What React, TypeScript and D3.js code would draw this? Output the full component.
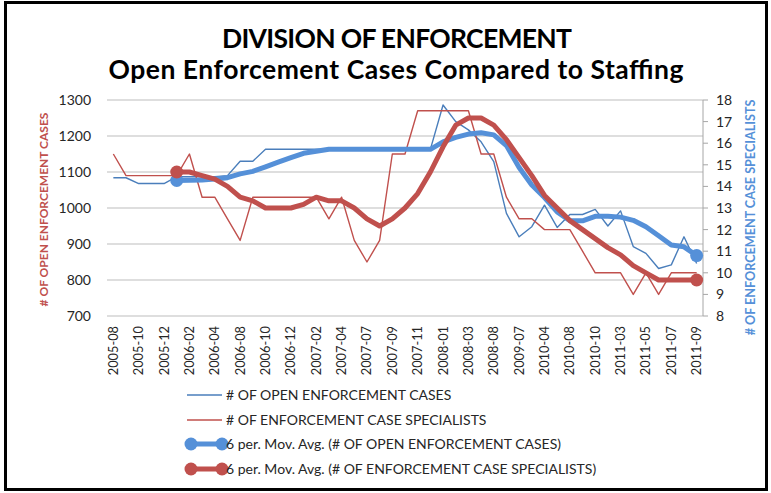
import React from 'react';
import * as d3 from 'd3';

const categories = [
  '2005-08', '2005-09', '2005-10', '2005-11', '2005-12', '2006-01', '2006-02', '2006-03',
  '2006-04', '2006-06', '2006-08', '2006-09', '2006-10', '2006-11', '2006-12', '2007-01',
  '2007-02', '2007-03', '2007-04', '2007-05', '2007-07', '2007-08', '2007-09', '2007-10',
  '2007-11', '2007-12', '2008-01', '2008-02', '2008-03', '2008-05', '2008-08', '2009-01',
  '2009-07', '2009-11', '2010-04', '2010-06', '2010-08', '2010-09', '2010-10', '2010-12',
  '2011-03', '2011-04', '2011-05', '2011-06', '2011-07', '2011-08', '2011-09',
];

const openCases = [
  1084, 1084, 1068, 1068, 1068, 1087, 1087, 1087, 1087, 1090, 1130, 1130, 1163, 1163, 1163, 1163,
  1163, 1163, 1163, 1163, 1163, 1163, 1163, 1163, 1163, 1163, 1286, 1240, 1217, 1184, 1129, 985,
  920, 948, 1008, 946, 982, 982, 996, 950, 992, 893, 874, 832, 842, 920, 846,
];

const specialists = [
  15.5, 14.5, 14.5, 14.5, 14.5, 14.5, 15.5, 13.5, 13.5, 12.5, 11.5, 13.5, 13.5, 13.5, 13.5, 13.5,
  13.5, 12.5, 13.5, 11.5, 10.5, 11.5, 15.5, 15.5, 17.5, 17.5, 17.5, 17.5, 17.5, 15.5, 15.5, 13.5,
  12.5, 12.5, 12, 12, 12, 11, 10, 10, 10, 9, 10, 9, 10, 10, 10,
];

const leftTicks = [700, 800, 900, 1000, 1100, 1200, 1300];
const rightTicks = [8, 9, 10, 11, 12, 13, 14, 15, 16, 17, 18];

const titleLine1 = 'DIVISION OF ENFORCEMENT';
const titleLine2 = 'Open Enforcement Cases Compared to Staffing';
const leftAxisTitle = '# OF OPEN ENFORCEMENT CASES';
const rightAxisTitle = '# OF ENFORCEMENT CASE SPECIALISTS';
const legendNames = [
  '# OF OPEN ENFORCEMENT CASES',
  '# OF ENFORCEMENT CASE SPECIALISTS',
  '6 per. Mov. Avg. (# OF OPEN ENFORCEMENT CASES)',
  '6 per. Mov. Avg. (# OF ENFORCEMENT CASE SPECIALISTS)',
];

const PERIOD = 6;

function movingAverage(values: number[], n: number): (number | null)[] {
  return values.map((_, i) => (i < n - 1 ? null : (d3.mean(values.slice(i - n + 1, i + 1)) as number)));
}

const FONT = 'Lato, Carlito, Calibri, "Liberation Sans", sans-serif';
const BLUE = '#4A7EBB';
const BLUE_MA = '#5590D8';
const RED = '#C0504D';
const RED_MA = '#C0504D';

export default function App() {
  const W = 771;
  const H = 493;
  const plot = { left: 107, right: 703, top: 100, bottom: 316 };

  const x = d3.scaleBand<string>().domain(categories).range([plot.left, plot.right]);
  const cx = (i: number) => (x(categories[i]) as number) + x.bandwidth() / 2;
  const yL = d3.scaleLinear().domain([700, 1300]).range([plot.bottom, plot.top]);
  const yR = d3.scaleLinear().domain([8, 18]).range([plot.bottom, plot.top]);

  const maOpen = movingAverage(openCases, PERIOD);
  const maSpec = movingAverage(specialists, PERIOD);

  const lineL = d3
    .line<number | null>()
    .defined((d) => d !== null)
    .x((_, i) => cx(i))
    .y((d) => yL(d as number));
  const lineR = d3
    .line<number | null>()
    .defined((d) => d !== null)
    .x((_, i) => cx(i))
    .y((d) => yR(d as number));

  const firstMA = PERIOD - 1;
  const lastIdx = categories.length - 1;

  const legendX0 = 187;
  const legendX1 = 222;
  const legendYs = [395, 420, 444, 469];

  return (
    <svg
      width={W}
      height={H}
      style={{ position: 'absolute', left: 0, top: 0, background: '#fff' }}
      fontFamily={FONT}
    >
      <rect x={0} y={0} width={W} height={H} fill="#fff" />
      <rect x={5.5} y={2.5} width={761} height={487} fill="none" stroke="#000" strokeWidth={3} />

      {/* titles */}
      <text x={397} y={47.5} textAnchor="middle" fontSize={26.5} fontWeight="bold" fill="#000"
        textLength={350} lengthAdjust="spacing">
        {titleLine1}
      </text>
      <text x={396} y={79} textAnchor="middle" fontSize={26.5} fontWeight="bold" fill="#000"
        textLength={575} lengthAdjust="spacing">
        {titleLine2}
      </text>

      {/* gridlines */}
      {leftTicks.map((t) => (
        <line key={t} x1={plot.left} x2={plot.right} y1={yL(t)} y2={yL(t)} stroke="#BEBEBE" strokeWidth={1.2} />
      ))}

      {/* right axis line and ticks */}
      <line x1={plot.right} x2={plot.right} y1={plot.top} y2={plot.bottom} stroke="#A6A6A6" strokeWidth={1} />
      {rightTicks.map((t) => (
        <g key={t}>
          <line x1={plot.right} x2={plot.right + 5} y1={yR(t)} y2={yR(t)} stroke="#A6A6A6" />
          <text x={716} y={yR(t)} dy="0.35em" fontSize={14} fill="#262626">
            {t}
          </text>
        </g>
      ))}

      {/* left tick labels */}
      {leftTicks.map((t) => (
        <text key={t} x={91} y={yL(t)} dy="0.35em" textAnchor="end" fontSize={14} fill="#262626">
          {t}
        </text>
      ))}

      {/* x tick labels */}
      {categories.map((c, i) =>
        i % 2 === 0 ? (
          <text
            key={c}
            transform={`translate(${cx(i)},${plot.bottom + 10}) rotate(-90)`}
            textAnchor="end"
            dy="0.35em"
            fontSize={12.8}
            fill="#262626"
          >
            {c}
          </text>
        ) : null
      )}

      {/* axis titles */}
      <text
        transform={`translate(43.5,209.5) rotate(-90)`}
        textAnchor="middle"
        dy="0.35em"
        fontSize={12}
        fontWeight="bold"
        fill={RED}
      >
        {leftAxisTitle}
      </text>
      <text
        transform={`translate(750.5,217.5) rotate(-90)`}
        textAnchor="middle"
        dy="0.35em"
        fontSize={12.6}
        fontWeight="bold"
        fill={BLUE_MA}
      >
        {rightAxisTitle}
      </text>

      {/* series */}
      <path d={lineL(openCases) as string} fill="none" stroke={BLUE} strokeWidth={1.4} strokeLinejoin="round" />
      <path d={lineR(specialists) as string} fill="none" stroke={RED} strokeWidth={1.4} strokeLinejoin="round" />
      <path d={lineL(maOpen) as string} fill="none" stroke={BLUE_MA} strokeWidth={5} strokeLinejoin="round" strokeLinecap="round" />
      <path d={lineR(maSpec) as string} fill="none" stroke={RED_MA} strokeWidth={5} strokeLinejoin="round" strokeLinecap="round" />

      {/* MA end markers */}
      <circle cx={cx(firstMA)} cy={yL(maOpen[firstMA] as number)} r={6.5} fill={BLUE_MA} />
      <circle cx={cx(lastIdx)} cy={yL(maOpen[lastIdx] as number)} r={6.5} fill={BLUE_MA} />
      <circle cx={cx(firstMA)} cy={yR(maSpec[firstMA] as number)} r={6.5} fill={RED_MA} />
      <circle cx={cx(lastIdx)} cy={yR(maSpec[lastIdx] as number)} r={6.5} fill={RED_MA} />

      {/* legend */}
      {legendNames.map((name, k) => {
        const y = legendYs[k];
        const isMA = k >= 2;
        const color = k % 2 === 0 ? (isMA ? BLUE_MA : BLUE) : RED;
        return (
          <g key={name}>
            <line x1={legendX0} x2={legendX1} y1={y} y2={y} stroke={color} strokeWidth={isMA ? 5 : 1.4} />
            {isMA && (
              <>
                <circle cx={legendX0 + 4} cy={y} r={6.5} fill={color} />
                <circle cx={legendX1} cy={y} r={6.5} fill={color} />
              </>
            )}
            <text x={226} y={y} dy="0.35em" fontSize={14} fill="#262626">
              {name}
            </text>
          </g>
        );
      })}
    </svg>
  );
}
